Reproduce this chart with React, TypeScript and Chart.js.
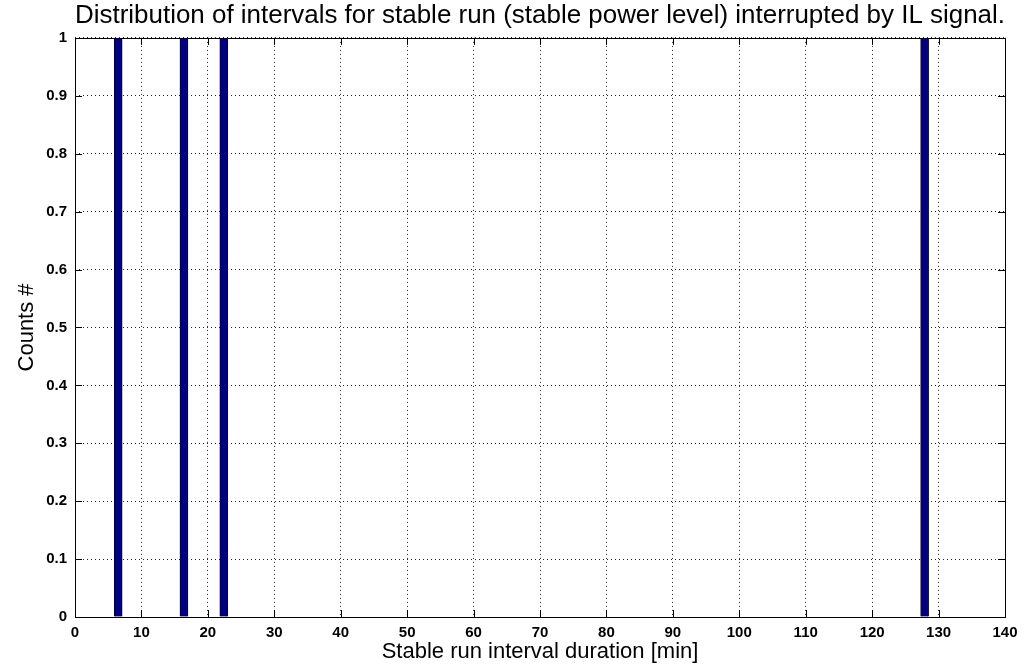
import React, { useEffect, useRef } from "react";
import { Chart, registerables } from "chart.js";

Chart.register(...registerables);

// Histogram bin centres [min] and the number of intervals in each bin
const binCenters = [6.5, 16.4, 22.4, 127.9];
const counts = [1, 1, 1, 1];

const xMin = 0;
const xMax = 140;
const xStep = 10;
const yMin = 0;
const yMax = 1;
const yStep = 0.1;

const titleText =
  "Distribution of intervals for stable run (stable power level) interrupted by IL signal.";
const xTitle = "Stable run interval duration [min]";
const yTitle = "Counts #";

const FONT = "'Liberation Sans', Arial, Helvetica, sans-serif";

// Frame around the plot area plus short inward tick marks on all four sides
const framePlugin = {
  id: "frame",
  afterDatasetsDraw(chart: any) {
    const { ctx, chartArea: a, scales } = chart;
    ctx.save();
    ctx.strokeStyle = "#000";
    ctx.lineWidth = 1;
    ctx.setLineDash([]);
    const tl = 7;
    ctx.beginPath();
    scales.x.ticks.forEach((t: any) => {
      const px = Math.round(scales.x.getPixelForValue(t.value)) + 0.5;
      ctx.moveTo(px, a.bottom);
      ctx.lineTo(px, a.bottom - tl);
      ctx.moveTo(px, a.top);
      ctx.lineTo(px, a.top + tl);
    });
    scales.y.ticks.forEach((t: any) => {
      const py = Math.round(scales.y.getPixelForValue(t.value)) + 0.5;
      ctx.moveTo(a.left, py);
      ctx.lineTo(a.left + tl, py);
      ctx.moveTo(a.right, py);
      ctx.lineTo(a.right - tl, py);
    });
    ctx.stroke();
    ctx.strokeRect(
      Math.round(a.left) + 0.5,
      Math.round(a.top) + 0.5,
      Math.round(a.right - a.left),
      Math.round(a.bottom - a.top)
    );
    ctx.restore();
  },
};

export default function App() {
  const canvasRef = useRef<HTMLCanvasElement | null>(null);

  useEffect(() => {
    const canvas = canvasRef.current;
    if (!canvas) return;
    const chart = new Chart(canvas, {
      type: "bar",
      data: {
        datasets: [
          {
            data: binCenters.map((x, i) => ({ x, y: counts[i] })),
            backgroundColor: "#000080",
            borderColor: "#00003a",
            borderWidth: 1,
            barThickness: 8,
          },
        ],
      },
      options: {
        responsive: false,
        animation: false,
        devicePixelRatio: 1,
        layout: { padding: { left: 0, right: 27, top: 0, bottom: 0 } },
        plugins: {
          legend: { display: false },
          tooltip: { enabled: false },
          title: {
            display: true,
            text: titleText,
            fullSize: false,
            color: "#000",
            font: { family: FONT, size: 26, weight: "normal", lineHeight: 1.15 },
            padding: { top: 1, bottom: 7 },
          },
        },
        scales: {
          x: {
            type: "linear",
            min: xMin,
            max: xMax,
            offset: false,
            afterFit: (s: any) => {
              s.height = 48;
            },
            grid: {
              offset: false,
              drawTicks: false,
              color: "rgba(0,0,0,0.85)",
              lineWidth: 1,
            },
            border: { display: false, dash: [1, 3] },
            ticks: {
              stepSize: xStep,
              padding: 7,
              color: "#000",
              maxRotation: 0,
              font: { family: FONT, size: 15, weight: "bold" },
            },
            title: {
              display: true,
              text: xTitle,
              color: "#000",
              font: { family: FONT, size: 22, lineHeight: 1.2 },
              padding: { top: 0, bottom: 0 },
            },
          },
          y: {
            type: "linear",
            min: yMin,
            max: yMax,
            afterFit: (s: any) => {
              s.width = 75;
            },
            grid: {
              drawTicks: false,
              color: "rgba(0,0,0,0.85)",
              lineWidth: 1,
            },
            border: { display: false, dash: [1, 3] },
            ticks: {
              stepSize: yStep,
              padding: 8,
              color: "#000",
              font: { family: FONT, size: 15, weight: "bold" },
              callback: (v: any) => String(Math.round(Number(v) * 10) / 10),
            },
            title: {
              display: true,
              text: yTitle,
              color: "#000",
              font: { family: FONT, size: 22, lineHeight: 1.2 },
              padding: { top: 14, bottom: 0 },
            },
          },
        },
      },
      plugins: [framePlugin],
    } as any);
    return () => chart.destroy();
  }, []);

  return (
    <div
      style={{
        position: "fixed",
        left: 0,
        top: 0,
        width: 1032,
        height: 665,
        background: "#fff",
      }}
    >
      <canvas ref={canvasRef} width={1032} height={665} style={{ display: "block" }} />
    </div>
  );
}
